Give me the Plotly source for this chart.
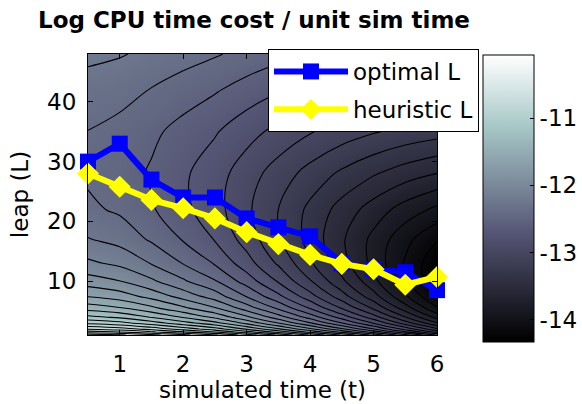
import plotly.graph_objects as go

# ---- data ----
sim_time = [0.5, 1.0, 1.5, 2.0, 2.5, 3.0, 3.5, 4.0, 4.5, 5.0, 5.5, 6.0]
leap_grid = [1, 1.5, 2, 3, 4, 5.5, 7.5, 10, 13, 17, 22, 28, 35, 42, 48]

# log CPU time cost / unit sim time, one row per leap value (columns = sim_time)
log_cost = [
    [-10.058, -10.125, -10.254, -10.411, -10.577, -10.816, -11.077, -11.364, -11.667, -11.989, -12.352, -12.719],
    [-10.382, -10.449, -10.578, -10.735, -10.902, -11.140, -11.401, -11.688, -11.991, -12.313, -12.676, -13.043],
    [-10.612, -10.679, -10.808, -10.965, -11.132, -11.370, -11.631, -11.918, -12.221, -12.542, -12.905, -13.271],
    [-10.936, -11.003, -11.132, -11.289, -11.455, -11.693, -11.954, -12.240, -12.543, -12.863, -13.225, -13.589],
    [-11.165, -11.232, -11.361, -11.518, -11.684, -11.922, -12.182, -12.467, -12.769, -13.088, -13.446, -13.808],
    [-11.418, -11.485, -11.613, -11.770, -11.935, -12.172, -12.430, -12.714, -13.013, -13.328, -13.680, -14.033],
    [-11.661, -11.727, -11.855, -12.011, -12.175, -12.410, -12.665, -12.945, -13.237, -13.543, -13.882, -14.216],
    [-11.880, -11.946, -12.073, -12.226, -12.387, -12.617, -12.866, -13.137, -13.417, -13.706, -14.019, -14.317],
    [-12.070, -12.134, -12.258, -12.407, -12.564, -12.785, -13.022, -13.277, -13.535, -13.796, -14.067, -14.317],
    [-12.242, -12.303, -12.421, -12.562, -12.709, -12.915, -13.130, -13.356, -13.578, -13.792, -14.004, -14.187],
    [-12.369, -12.425, -12.533, -12.661, -12.791, -12.970, -13.153, -13.336, -13.509, -13.668, -13.815, -13.934],
    [-12.426, -12.475, -12.568, -12.676, -12.784, -12.929, -13.070, -13.206, -13.329, -13.435, -13.529, -13.602],
    [-12.403, -12.444, -12.518, -12.603, -12.686, -12.794, -12.895, -12.989, -13.070, -13.137, -13.194, -13.237],
    [-12.317, -12.349, -12.407, -12.472, -12.534, -12.613, -12.685, -12.750, -12.804, -12.848, -12.885, -12.912],
    [-12.213, -12.238, -12.285, -12.337, -12.385, -12.445, -12.500, -12.548, -12.587, -12.619, -12.645, -12.664],
]

optimal_L = [30, 33, 27, 24, 24, 20.5, 19, 17.5, 13, 12, 11.5, 8.5]
heuristic_L = [28, 25.8, 23.6, 22.2, 20.5, 18.2, 16.2, 14.4, 12.9, 12.0, 9.4, 10.7]

x_ticks = [1, 2, 3, 4, 5, 6]
y_ticks = [10, 20, 30, 40]
cbar_ticks = [-14, -13, -12, -11]
cbar_labels = ["-14", "-13", "-12", "-11"]

# MATLAB "bone" colormap (piecewise linear)
bone = [
    [0.0, "rgb(0,0,0)"],
    [0.375, "rgb(84,84,116)"],
    [0.75, "rgb(167,199,199)"],
    [1.0, "rgb(255,255,255)"],
]

FONT = "DejaVu Sans"
fs = 23

fig = go.Figure()

# smooth colour field + colour bar
fig.add_trace(go.Heatmap(
    x=sim_time, y=leap_grid, z=log_cost,
    colorscale=bone, zmin=-14.33, zmax=-10.06, zsmooth="best",
    hoverinfo="skip",
    colorbar=dict(
        thickness=51, thicknessmode="pixels",
        len=287, lenmode="pixels",
        x=(483 - 88) / 349, xanchor="left",
        y=(335 - 55) / 281, yanchor="top",
        xpad=0, ypad=0,
        outlinewidth=1, outlinecolor="black",
        tickvals=cbar_ticks, ticktext=cbar_labels,
        ticks="inside", ticklen=4, tickcolor="black",
        tickfont=dict(family=FONT, size=fs, color="black"),
    ),
))

# black contour lines
fig.add_trace(go.Contour(
    x=sim_time, y=leap_grid, z=log_cost,
    contours=dict(start=-14.2, end=-10.1, size=0.15, coloring="none"),
    line=dict(color="black", width=1.1),
    showscale=False, showlegend=False, hoverinfo="skip",
))

fig.add_trace(go.Scatter(
    x=sim_time, y=optimal_L, mode="lines+markers",
    name="optimal L", legendgroup="a",
    line=dict(color="rgb(0,0,255)", width=6),
    marker=dict(symbol="square", size=16, color="rgb(0,0,255)"),
    cliponaxis=False,
))

fig.add_trace(go.Scatter(
    x=sim_time, y=heuristic_L, mode="lines+markers",
    name="heuristic L", legendgroup="b",
    line=dict(color="rgb(255,255,0)", width=6),
    marker=dict(symbol="diamond", size=17, color="rgb(255,255,0)"),
    cliponaxis=False,
))

axis_common = dict(
    showgrid=False, zeroline=False,
    showline=True, linecolor="black", linewidth=1, mirror="ticks",
    ticks="inside", ticklen=5, tickcolor="black",
    tickfont=dict(family=FONT, size=fs, color="black"),
)

fig.update_layout(
    width=582, height=404,
    margin=dict(l=88, r=145, t=54, b=69, autoexpand=False),
    paper_bgcolor="white", plot_bgcolor="white",
    font=dict(family=FONT, size=fs, color="black"),
    title=dict(
        text="<b>Log CPU time cost / unit sim time</b>",
        font=dict(family=FONT, size=fs, color="black"),
        x=254 / 582, xref="container", xanchor="center",
        y=1 - 20 / 404, yref="container", yanchor="middle",
    ),
    xaxis=dict(
        range=[0.5, 6], tickvals=x_ticks, ticklabelstandoff=8,
        title=dict(text="simulated time (t)", standoff=2,
                   font=dict(family=FONT, size=fs, color="black")),
        **axis_common,
    ),
    yaxis=dict(
        range=[1, 48], tickvals=y_ticks, ticklabelstandoff=6,
        title=dict(text="leap (L)", standoff=12,
                   font=dict(family=FONT, size=fs, color="black")),
        **axis_common,
    ),
    legend=dict(
        x=(268 - 88) / 349, xanchor="left",
        y=(335 - 49) / 281, yanchor="top",
        bgcolor="white", bordercolor="black", borderwidth=1,
        font=dict(family=FONT, size=fs, color="black"),
        itemwidth=74, tracegroupgap=5,
    ),
)

fig.write_html("out.html")
